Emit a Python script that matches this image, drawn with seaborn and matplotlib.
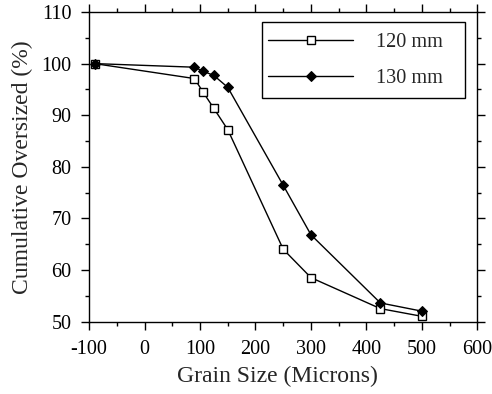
import matplotlib
matplotlib.use("Agg")
import matplotlib.pyplot as plt
from matplotlib.ticker import MultipleLocator
from matplotlib.patches import Rectangle
import seaborn as sns
import pandas as pd

# Sieve data: grain size (microns) vs cumulative oversized (%)
grain_size = [-90, 90, 106, 125, 150, 250, 300, 425, 500]
oversized_120mm = [100, 97.1, 94.4, 91.3, 87.2, 64.0, 58.5, 52.5, 51.0]
oversized_130mm = [100, 99.3, 98.5, 97.7, 95.4, 76.4, 66.8, 53.6, 52.0]
series_names = ["120 mm", "130 mm"]

df = pd.concat([
    pd.DataFrame({"size": grain_size, "value": oversized_120mm, "series": series_names[0]}),
    pd.DataFrame({"size": grain_size, "value": oversized_130mm, "series": series_names[1]}),
])

sns.set_style("ticks")
plt.rcParams["font.family"] = ["Liberation Serif", "DejaVu Serif"]
plt.rcParams["axes.unicode_minus"] = False

fig = plt.figure(figsize=(4.92, 3.94), dpi=100)
ax = fig.add_axes([0.1809, 0.184, 0.7896, 0.7855])

sns.lineplot(
    data=df, x="size", y="value", hue="series", style="series",
    palette=["black", "black"], markers={"120 mm": "s", "130 mm": "D"},
    dashes=False, linewidth=1.0, ax=ax, legend=False, sort=False,
)
# open squares for 120 mm, filled diamonds for 130 mm
lines = ax.get_lines()
lines[0].set_markerfacecolor("white")
lines[0].set_markeredgecolor("black")
lines[0].set_markersize(6.0)
lines[0].set_markeredgewidth(1.0)
lines[1].set_markerfacecolor("black")
lines[1].set_markeredgecolor("black")
lines[1].set_markersize(5.2)
lines[1].set_zorder(3)

ax.set_xlim(-100, 600)
ax.set_ylim(50, 110)
ax.xaxis.set_major_locator(MultipleLocator(100))
ax.xaxis.set_minor_locator(MultipleLocator(50))
ax.yaxis.set_major_locator(MultipleLocator(10))
ax.yaxis.set_minor_locator(MultipleLocator(5))
ax.tick_params(which="both", direction="out", top=True, right=True, colors="black")
ax.tick_params(which="major", length=5.5, width=1)
ax.tick_params(which="minor", length=3, width=1)
ax.tick_params(axis="x", labelsize=14.5, pad=8)
ax.tick_params(axis="y", labelsize=14.5, pad=7)
for s in ax.spines.values():
    s.set_color("black")
    s.set_linewidth(1.0)

ax.set_xlabel("Grain Size (Microns)", fontsize=17)
ax.set_ylabel("Cumulative Oversized (%)", fontsize=17)
ax.xaxis.set_label_coords(0.485, -0.142)
ax.yaxis.set_label_coords(-0.145, 0.50)

# legend box with its wider right margin
ax.add_patch(Rectangle((0.445, 0.722), 0.523, 0.246, transform=ax.transAxes,
                       facecolor="white", edgecolor="black", linewidth=1.0, zorder=4))
leg = ax.legend(lines, series_names, loc="center left", bbox_to_anchor=(0.461, 0.843),
                frameon=False, fontsize=14.6, handlelength=4.2, handletextpad=1.1,
                borderpad=0, borderaxespad=0, labelspacing=0.85)
leg.set_zorder(5)

fig.savefig("out.png", dpi=100)
